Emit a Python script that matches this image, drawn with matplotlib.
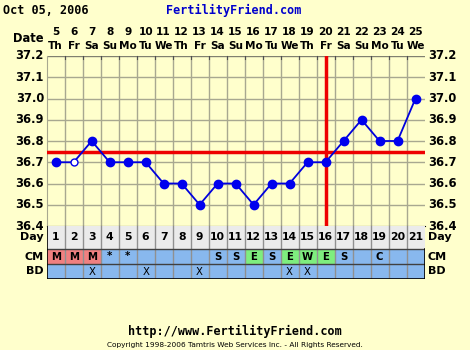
import matplotlib
matplotlib.use("Agg")
import matplotlib.pyplot as plt
from matplotlib.patches import Rectangle

# ---- data ----
title_date = "Oct 05, 2006"
site = "FertilityFriend.com"
dates = [5, 6, 7, 8, 9, 10, 11, 12, 13, 14, 15, 16, 17, 18, 19, 20, 21, 22, 23, 24, 25]
weekdays = ["Th", "Fr", "Sa", "Su", "Mo", "Tu", "We", "Th", "Fr", "Sa", "Su",
            "Mo", "Tu", "We", "Th", "Fr", "Sa", "Su", "Mo", "Tu", "We"]
days = list(range(1, 22))
temps = [36.7, 36.7, 36.8, 36.7, 36.7, 36.7, 36.6, 36.6, 36.5, 36.6, 36.6,
         36.5, 36.6, 36.6, 36.7, 36.7, 36.8, 36.9, 36.8, 36.8, 37.0]
open_points = [2]
cm = ["M", "M", "M", "*", "*", "", "", "", "", "S", "S", "E", "S", "E", "W", "E", "S", "", "C", "", ""]
bd = ["", "", "X", "", "", "X", "", "", "X", "", "", "", "", "X", "X", "", "", "", "", "", ""]
coverline = 36.75
ovulation_day = 16
yticks = [36.4, 36.5, 36.6, 36.7, 36.8, 36.9, 37.0, 37.1, 37.2]

BG = "#FFFFCC"
GRID = "#A8A890"
W, H = 470, 350
fig = plt.figure(figsize=(4.7, 3.5), dpi=100, facecolor=BG)

def fx(px):
    return px / W

def fy(py):
    return 1 - py / H

L, R, T, B = 46.7, 424.5, 56, 226
ax = fig.add_axes([fx(L), fy(B), fx(R - L), (B - T) / H])
ax.set_facecolor(BG)
ax.set_xlim(0.5, 21.5)
ax.set_ylim(36.4, 37.2)
for d in range(1, 21):
    ax.axvline(d + 0.5, color=GRID, lw=1, zorder=1)
for yv in yticks[1:-1]:
    ax.axhline(yv, color=GRID, lw=1, zorder=1)
ax.set_xticks([])
ax.set_yticks([])
for s in ["top", "right"]:
    ax.spines[s].set_visible(False)
ax.spines["left"].set_color(GRID)
ax.spines["bottom"].set_color("black")
# top small ticks
for d in range(1, 21):
    ax.plot([d + 0.5, d + 0.5], [37.2, 37.2 - 0.012], color="#505050", lw=0.8, clip_on=False, zorder=2)
ax.axhline(37.2, color="#808070", lw=1, zorder=1)

ax.axhline(coverline, color="#EE0000", lw=2.5, zorder=3)
ax.axvline(ovulation_day, color="#EE0000", lw=2.5, zorder=3)

ax.plot(days, temps, color="#0000DD", lw=1.3, zorder=4)
filled = [i for i, d in enumerate(days) if d not in open_points]
ax.plot([days[i] for i in filled], [temps[i] for i in filled], "o", color="#0000EE",
        ms=6, zorder=5)
opn = [i for i, d in enumerate(days) if d in open_points]
ax.plot([days[i] for i in opn], [temps[i] for i in opn], "o", mfc="white", mec="#0000EE",
        ms=5, mew=1, zorder=5)

FONT = dict(family="DejaVu Sans", weight="bold")
# y tick labels both sides
for yv in yticks:
    py = B - (yv - 36.4) / 0.8 * (B - T)
    fig.text(fx(44), fy(py), f"{yv:.1f}", ha="right", va="center", fontsize=8.3, **FONT)
    fig.text(fx(428), fy(py), f"{yv:.1f}", ha="left", va="center", fontsize=8.3, **FONT)

colw = (R - L) / 21
for i, (d, w) in enumerate(zip(dates, weekdays)):
    cx = L + (i + 0.5) * colw
    fig.text(fx(cx), fy(32), str(d), ha="center", va="center", fontsize=7.6, **FONT)
    fig.text(fx(cx), fy(46), w, ha="center", va="center", fontsize=7.6, **FONT)
fig.text(fx(44), fy(39), "Date", ha="right", va="center", fontsize=8.3, **FONT)

fig.text(fx(3), fy(10), title_date, ha="left", va="center", fontsize=8.5,
         family="DejaVu Sans Mono", weight="bold")
fig.text(fx(234), fy(10), site, ha="center", va="center", fontsize=8.5,
         family="DejaVu Sans Mono", weight="bold", color="#0000CC")

# table
TB = 279
tab = fig.add_axes([fx(L), fy(TB), fx(R - L), (TB - B) / H])
tab.set_xlim(0.5, 21.5)
tab.set_ylim(TB, B)
tab.axis("off")
rows = [(226, 249, "#EBEBEB"), (249, 264, "#88B8EE"), (264, 279, "#88B8EE")]
for y0, y1, c in rows:
    tab.add_patch(Rectangle((0.5, y0), 21, y1 - y0, facecolor=c, edgecolor="none", zorder=0))
for i, c in enumerate(cm):
    if c == "M":
        tab.add_patch(Rectangle((i + 0.5, 249), 1, 15, facecolor="#F08080", edgecolor="none", zorder=1))
    elif c in ("E", "W"):
        tab.add_patch(Rectangle((i + 0.5, 249), 1, 15, facecolor="#7EEE7E", edgecolor="none", zorder=1))
for d in range(1, 21):
    tab.plot([d + 0.5, d + 0.5], [226, 279], color="#909090", lw=1, zorder=2)
for yv in [249, 264]:
    tab.plot([0.5, 21.5], [yv, yv], color="#404040", lw=1, zorder=2)
tab.plot([0.5, 21.5], [279, 279], color="black", lw=1.2, zorder=3)
tab.plot([0.5, 0.5], [226, 279], color="black", lw=1.2, zorder=3)
tab.plot([21.5, 21.5], [249, 279], color="black", lw=1.2, zorder=3)
for i, d in enumerate(days):
    tab.text(d, 237.5, str(d), ha="center", va="center", fontsize=7.8, **FONT)
    if cm[i]:
        tab.text(d, 256.5, cm[i], ha="center", va="center", fontsize=7.3, **FONT)
    if bd[i]:
        tab.text(d, 272, bd[i], ha="center", va="center", fontsize=7.3, weight="normal",
                 family="DejaVu Sans")
for lab, py in [("Day", 237.5), ("CM", 256.5), ("BD", 271.5)]:
    fig.text(fx(44), fy(py), lab, ha="right", va="center", fontsize=8, **FONT)
    fig.text(fx(428), fy(py), lab, ha="left", va="center", fontsize=8, **FONT)

fig.text(fx(235), fy(331), "http://www.FertilityFriend.com", ha="center", va="center",
         fontsize=8.5, family="DejaVu Sans Mono", weight="bold")
fig.text(fx(235), fy(345), "Copyright 1998-2006 Tamtris Web Services Inc. - All Rights Reserved.",
         ha="center", va="center", fontsize=5.3, family="DejaVu Sans")

fig.savefig("out.png", dpi=100, facecolor=BG)
